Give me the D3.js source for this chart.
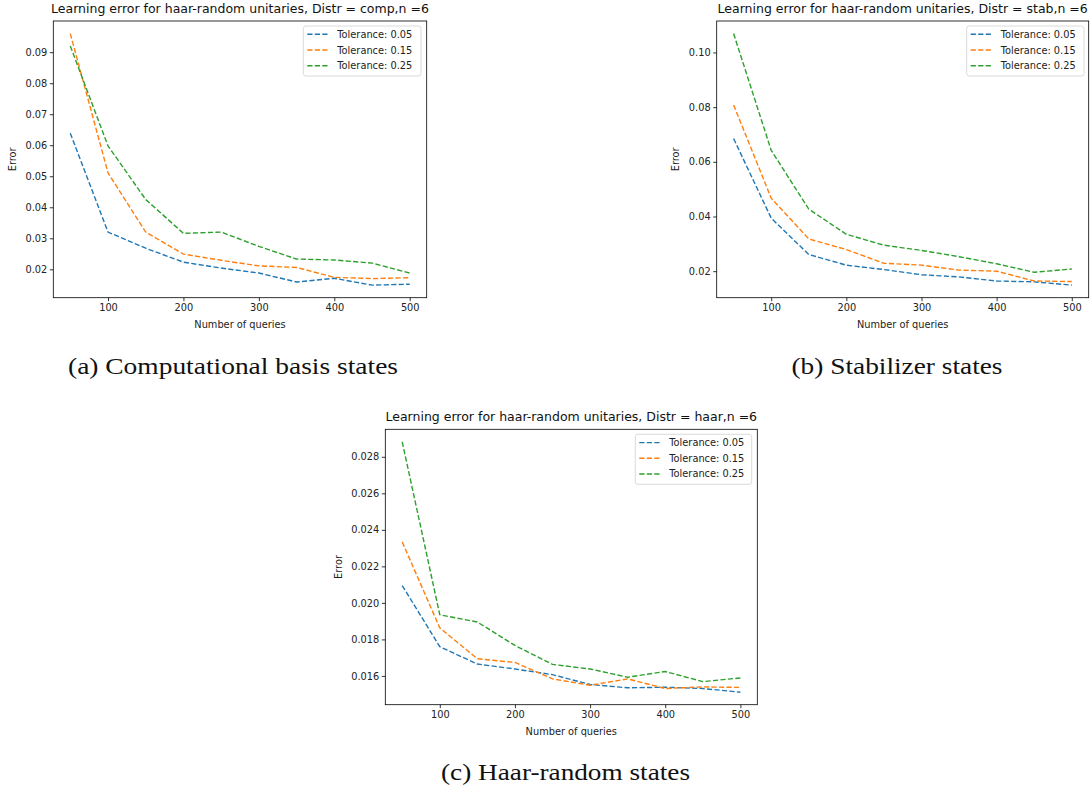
<!DOCTYPE html>
<html>
<head>
<meta charset="utf-8">
<script src="https://cdn.jsdelivr.net/npm/d3@7"></script>
<style>
  html, body { margin: 0; padding: 0; background: #fff; }
  svg { display: block; }
  text.sans { font-family: "DejaVu Sans", sans-serif; }
</style>
</head>
<body>
<svg id="chart" width="1092" height="789"></svg>
<script>
// ---------- data ----------
const queries = [50, 100, 150, 200, 250, 300, 350, 400, 450, 500];
const tolerances = ["Tolerance: 0.05", "Tolerance: 0.15", "Tolerance: 0.25"];

const compTol005 = [0.0639, 0.0320, 0.0268, 0.0223, 0.0204, 0.0188, 0.0159, 0.0171, 0.0149, 0.0152];
const compTol015 = [0.0960, 0.0511, 0.0320, 0.0249, 0.0229, 0.0211, 0.0206, 0.0174, 0.0170, 0.0173];
const compTol025 = [0.0920, 0.0598, 0.0425, 0.0316, 0.0320, 0.0274, 0.0233, 0.0230, 0.0220, 0.0188];

const stabTol005 = [0.0685, 0.0394, 0.0261, 0.0222, 0.0206, 0.0187, 0.0179, 0.0164, 0.0161, 0.0149];
const stabTol015 = [0.0808, 0.0467, 0.0318, 0.0279, 0.0229, 0.0222, 0.0204, 0.0200, 0.0164, 0.0162];
const stabTol025 = [0.1069, 0.0642, 0.0427, 0.0335, 0.0295, 0.0276, 0.0253, 0.0227, 0.0196, 0.0208];

const haarTol005 = [0.02095, 0.01760, 0.01665, 0.01638, 0.01607, 0.01553, 0.01535, 0.01538, 0.01531, 0.01511];
const haarTol015 = [0.02334, 0.01863, 0.01694, 0.01674, 0.01584, 0.01549, 0.01584, 0.01531, 0.01540, 0.01537];
const haarTol025 = [0.02882, 0.01935, 0.01895, 0.01767, 0.01663, 0.01638, 0.01593, 0.01624, 0.01569, 0.01589];

const xTicks = [100, 200, 300, 400, 500];
const compYTicks = [0.02, 0.03, 0.04, 0.05, 0.06, 0.07, 0.08, 0.09];
const stabYTicks = [0.02, 0.04, 0.06, 0.08, 0.10];
const haarYTicks = [0.016, 0.018, 0.020, 0.022, 0.024, 0.026, 0.028];

const titles = [
  "Learning error for haar-random unitaries, Distr = comp,n =6",
  "Learning error for haar-random unitaries, Distr = stab,n =6",
  "Learning error for haar-random unitaries, Distr = haar,n =6"
];
const captions = ["(a) Computational basis states", "(b) Stabilizer states", "(c) Haar-random states"];
const colors = ["#1f77b4", "#ff7f0e", "#2ca02c"];

// ---------- drawing ----------
const svg = d3.select("#chart");
const SANS = '"DejaVu Sans", sans-serif';
const SERIF = '"Liberation Serif", "DejaVu Serif", serif';

function drawPanel(cfg) {
  const g = svg.append("g");
  const allVals = cfg.series.flat();
  const ymin = d3.min(allVals), ymax = d3.max(allVals);
  const ypad = (ymax - ymin) * 0.05;
  const xpad = (d3.max(queries) - d3.min(queries)) * 0.05;

  const x = d3.scaleLinear()
    .domain([d3.min(queries) - xpad, d3.max(queries) + xpad])
    .range([cfg.left, cfg.right]);
  const y = d3.scaleLinear()
    .domain([ymin - ypad, ymax + ypad])
    .range([cfg.bottom, cfg.top]);

  const xAxis = d3.axisBottom(x).tickValues(xTicks).tickSize(3.5).tickPadding(2.5).tickFormat(d3.format("d"));
  const yAxis = d3.axisLeft(y).tickValues(cfg.yTicks).tickSize(3.5).tickPadding(2.5).tickFormat(d3.format(cfg.yFmt));

  const gx = g.append("g").attr("transform", `translate(0,${cfg.bottom})`).call(xAxis);
  const gy = g.append("g").attr("transform", `translate(${cfg.left},0)`).call(yAxis);
  [gx, gy].forEach(a => {
    a.select(".domain").remove();
    a.selectAll(".tick line").attr("stroke", "#000").attr("stroke-width", 0.8);
    a.selectAll(".tick text").style("font-size", "9.8px").style("font-family", SANS).attr("fill", "#222");
  });

  const line = d3.line().x((d, i) => x(queries[i])).y(d => y(d));
  cfg.series.forEach((s, k) => {
    g.append("path")
      .datum(s)
      .attr("d", line)
      .attr("fill", "none")
      .attr("stroke", colors[k])
      .attr("stroke-width", 1.4)
      .attr("stroke-dasharray", "5.2,2.3");
  });

  g.append("rect")
    .attr("x", cfg.left).attr("y", cfg.top)
    .attr("width", cfg.right - cfg.left).attr("height", cfg.bottom - cfg.top)
    .attr("fill", "none").attr("stroke", "#000").attr("stroke-width", 0.8);

  g.append("text")
    .attr("x", (cfg.left + cfg.right) / 2).attr("y", cfg.top - 8)
    .attr("text-anchor", "middle").style("font-size", "12.5px").style("font-family", SANS).attr("fill", "#111")
    .text(cfg.title);

  g.append("text")
    .attr("x", (cfg.left + cfg.right) / 2).attr("y", cfg.bottom + 30)
    .attr("text-anchor", "middle").style("font-size", "9.8px").style("font-family", SANS).attr("fill", "#222")
    .text("Number of queries");
  g.append("text")
    .attr("transform", `translate(${cfg.ylabelX},${(cfg.top + cfg.bottom) / 2}) rotate(-90)`)
    .attr("text-anchor", "middle").style("font-size", "9.8px").style("font-family", SANS).attr("fill", "#222")
    .text("Error");

  const lg = g.append("g").attr("transform", `translate(${cfg.legX},${cfg.top + 5})`);
  lg.append("rect")
    .attr("x", 0).attr("y", 0).attr("width", cfg.legW).attr("height", 50)
    .attr("rx", 2.5).attr("ry", 2.5)
    .attr("fill", "#fff").attr("fill-opacity", 0.8)
    .attr("stroke", "#d0d0d0").attr("stroke-width", 0.8);
  tolerances.forEach((t, k) => {
    const yy = 8.3 + k * 15.7;
    lg.append("line")
      .attr("x1", 4).attr("x2", 25).attr("y1", yy).attr("y2", yy)
      .attr("stroke", colors[k]).attr("stroke-width", 1.4)
      .attr("stroke-dasharray", "5.2,2.3");
    lg.append("text")
      .attr("x", 34).attr("y", yy + 3.5)
      .style("font-size", "9.8px").style("font-family", SANS).attr("fill", "#222")
      .text(t);
  });

  svg.append("text")
    .attr("x", cfg.capX).attr("y", cfg.capY)
    .attr("text-anchor", "middle")
    .style("font-family", SERIF)
    .style("font-size", "23px")
    .attr("textLength", cfg.capW).attr("lengthAdjust", "spacingAndGlyphs")
    .attr("fill", "#111")
    .text(cfg.caption);
}

drawPanel({
  series: [compTol005, compTol015, compTol025], yTicks: compYTicks, yFmt: ".2f",
  left: 53.3, right: 426.7, top: 21, bottom: 297.7, ylabelX: 16,
  legX: 303.3, legW: 117.7, title: titles[0],
  caption: captions[0], capX: 233, capY: 374, capW: 330
});
drawPanel({
  series: [stabTol005, stabTol015, stabTol025], yTicks: stabYTicks, yFmt: ".2f",
  left: 716.7, right: 1088.7, top: 21, bottom: 297.7, ylabelX: 679,
  legX: 966.7, legW: 117.3, title: titles[1],
  caption: captions[1], capX: 897, capY: 374, capW: 211
});
drawPanel({
  series: [haarTol005, haarTol015, haarTol025], yTicks: haarYTicks, yFmt: ".3f",
  left: 385.3, right: 757.3, top: 429.3, bottom: 704.7, ylabelX: 341.5,
  legX: 635.3, legW: 116.4, title: titles[2],
  caption: captions[2], capX: 565.5, capY: 780, capW: 249
});
</script>
</body>
</html>
